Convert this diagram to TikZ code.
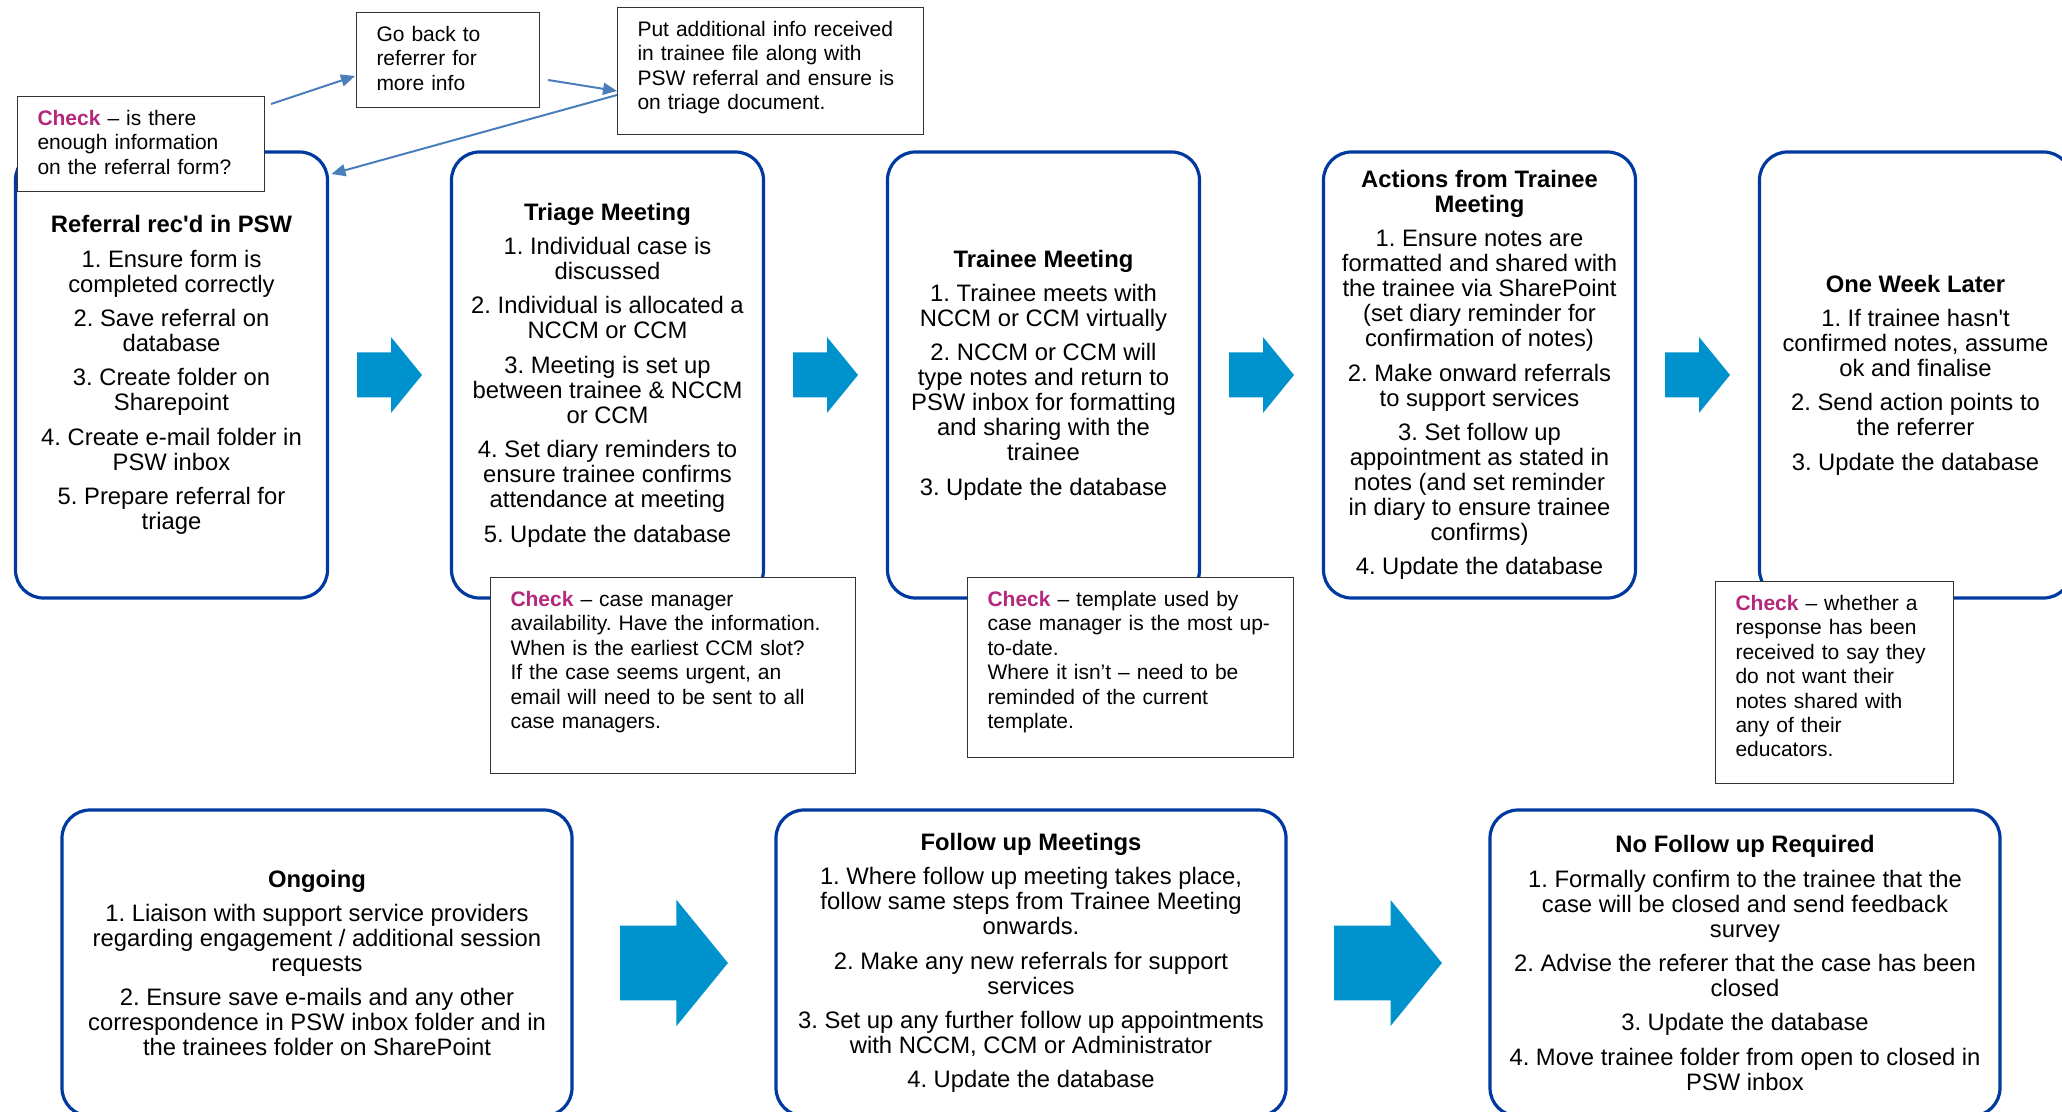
\documentclass[tikz,border=0pt]{standalone}
\usepackage{fontspec}
\setmainfont{Liberation Sans}
\usetikzlibrary{arrows.meta,positioning,calc}
\frenchspacing

\definecolor{stageblue}{RGB}{0,57,160}
\definecolor{flowblue}{RGB}{0,146,204}
\definecolor{linkblue}{RGB}{74,126,187}
\definecolor{checkpink}{RGB}{181,39,122}
\newcommand{\chk}{\textcolor{checkpink}{\textbf{Check}}}

\begin{document}
\begin{tikzpicture}[
        x=0.5pt, y=-0.5pt,
        font=\fontsize{11.9pt}{12.5pt}\selectfont,
        node distance=62pt,
        >=Latex,
        stage/.style={draw=stageblue, rounded corners=14pt, line width=1.6pt, align=center, minimum width=156pt, minimum height=223pt, inner sep=0pt, outer sep=0pt},
        phase/.style={stage, minimum width=255pt, minimum height=153pt},
        note/.style={draw=black!80, fill=white, line width=0.5pt, align=left, anchor=north west, inner xsep=10pt, inner ysep=0pt, text height=14.5pt, font=\fontsize{10.5pt}{12.2pt}\selectfont},
        link/.style={draw=linkblue, line width=1pt, -{Triangle[length=7pt,width=6pt]}},
        pics/flowarrow/.style={code={\fill[flowblue] (-32.5,-22.5) -- (1.5,-22.5) -- (1.5,-38) -- (32.5,0) -- (1.5,38) -- (1.5,22.5) -- (-32.5,22.5) -- cycle;}}
    ]
        \useasboundingbox (0,0) rectangle (2062,1112);
        \clip (0,0) rectangle (2062,1112);

        % top row
        \node[stage] (referral) at (171.5,375) {\textbf{Referral rec\textquotesingle d in PSW}\\[4.7pt]1. Ensure form is\\completed correctly\\[4.7pt]2. Save referral on\\database\\[4.7pt]3. Create folder on\\Sharepoint\\[4.7pt]4. Create e-mail folder in\\PSW inbox\\[4.7pt]5. Prepare referral for\\triage};
        \node[stage, right=of referral] (triage) {\textbf{Triage Meeting}\\[4.7pt]1. Individual case is\\discussed\\[4.7pt]2. Individual is allocated a\\NCCM or CCM\\[4.7pt]3. Meeting is set up\\between trainee \& NCCM\\or CCM\\[4.7pt]4. Set diary reminders to\\ensure trainee confirms\\attendance at meeting\\[4.7pt]5. Update the database};
        \node[stage, right=of triage] (trainee) {\textbf{Trainee Meeting}\\[4.7pt]1. Trainee meets with\\NCCM or CCM virtually\\[4.7pt]2. NCCM or CCM will\\type notes and return to\\PSW inbox for formatting\\and sharing with the\\trainee\\[4.7pt]3. Update the database};
        \node[stage, right=of trainee] (actions) {\textbf{Actions from Trainee}\\\textbf{Meeting}\\[4.7pt]1. Ensure notes are\\formatted and shared with\\the trainee via SharePoint\\(set diary reminder for\\confirmation of notes)\\[4.7pt]2. Make onward referrals\\to support services\\[4.7pt]3. Set follow up\\appointment as stated in\\notes (and set reminder\\in diary to ensure trainee\\confirms)\\[4.7pt]4. Update the database};
        \node[stage, right=of actions] (oneweek) {\textbf{One Week Later}\\[4.7pt]1. If trainee hasn\textquotesingle t\\confirmed notes, assume\\ok and finalise\\[4.7pt]2. Send action points to\\the referrer\\[4.7pt]3. Update the database};

        % bottom row
        \node[phase] (ongoing) at (317,963) {\textbf{Ongoing}\\[4.7pt]1. Liaison with support service providers\\regarding engagement / additional session\\requests\\[4.7pt]2. Ensure save e-mails and any other\\correspondence in PSW inbox folder and in\\the trainees folder on SharePoint};
        \node[phase, right=102pt of ongoing] (followup) {\textbf{Follow up Meetings}\\[4.7pt]1. Where follow up meeting takes place,\\follow same steps from Trainee Meeting\\onwards.\\[4.7pt]2. Make any new referrals for support\\services\\[4.7pt]3. Set up any further follow up appointments\\with NCCM, CCM or Administrator\\[4.7pt]4. Update the database};
        \node[phase, right=102pt of followup] (nofollow) {\textbf{No Follow up Required}\\[4.7pt]1. Formally confirm to the trainee that the\\case will be closed and send feedback\\survey\\[4.7pt]2. Advise the referer that the case has been\\closed\\[4.7pt]3. Update the database\\[4.7pt]4. Move trainee folder from open to closed in\\PSW inbox};

        \foreach \a/\b in {referral/triage, triage/trainee, trainee/actions, actions/oneweek}
            \pic at ($(\a.east)!0.5!(\b.west)$) {flowarrow};
        \foreach \a/\b in {ongoing/followup, followup/nofollow}
            \pic[scale=1.66] at ($(\a.east)!0.5!(\b.west)$) {flowarrow};

        % notes
        \node[note, text width=103.5pt, text depth=33pt] (refcheck) at (17,96) {\chk{} – is there\\enough information\\on the referral form?};
        \node[note, text width=71.5pt, text depth=33pt] (goback) at (356,12) {Go back to\\referrer for\\more info};
        \node[note, text width=133pt, text depth=49pt] (extrainfo) at (617,7) {Put additional info received\\in trainee file along with\\PSW referral and ensure is\\on triage document.};
        \node[note, text width=162.5pt, text depth=83.5pt] (triagecheck) at (490,577) {\chk{} – case manager\\availability. Have the information.\\When is the earliest CCM slot?\\If the case seems urgent, an\\email will need to be sent to all\\case managers.};
        \node[note, text width=143pt, text depth=75.5pt] (templatecheck) at (967,577) {\chk{} – template used by\\case manager is the most up-\\to-date.\\Where it isn’t – need to be\\reminded of the current\\template.};
        \node[note, text width=99pt, text depth=86.5pt] (sharecheck) at (1715,581) {\chk{} – whether a\\response has been\\received to say they\\do not want their\\notes shared with\\any of their\\educators.};

        \draw[link] ([xshift=3pt,yshift=-4pt]refcheck.north east) -- ([xshift=-0.5pt,yshift=-8pt]goback.west);
        \draw[link] ([xshift=4pt,yshift=-10pt]goback.east) -- ([yshift=-10pt]extrainfo.west);
        \draw[link] ([yshift=-12pt]extrainfo.west) -- ([xshift=2pt,yshift=-11pt]referral.north east);
    \end{tikzpicture}
\end{document}
